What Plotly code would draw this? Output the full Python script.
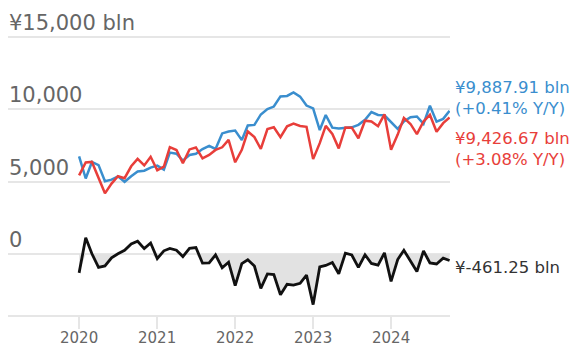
import plotly.graph_objects as go
import pandas as pd
import numpy as np

months = pd.date_range("2020-01-01", "2024-10-01", freq="MS")

# Exports (red), bln yen
exports = [
    5431, 6321, 6358, 5207, 4185, 4861, 5369, 5233, 6055, 6566, 6114, 6710,
    5779, 6036, 7378, 7181, 6261, 7221, 7358, 6606, 6841, 7184, 7367, 7881,
    6332, 7191, 8461, 8076, 7252, 8623, 8750, 8062, 8819, 9000, 8838, 8786,
    6551, 7654, 8850, 8294, 7293, 8743, 8726, 7993, 9204, 9147, 8827, 9648,
    7200, 8248, 9400, 8981, 8277, 9150, 9618, 8444, 9038, 9426.67,
]
# Imports (blue), bln yen
imports = [
    6744, 5210, 6353, 6138, 5019, 5130, 5358, 4985, 5367, 5691, 5752, 5961,
    6101, 5823, 7001, 6925, 6448, 6838, 6916, 7248, 7470, 7254, 8327, 8459,
    8523, 7866, 8873, 8915, 9637, 10007, 10185, 10886, 10918, 11164, 10870, 10254,
    10057, 8559, 9600, 8726, 8665, 8700, 8750, 8923, 9266, 9809, 9603, 9579,
    9091, 8636, 9150, 9443, 9498, 8987, 10243, 9139, 9332, 9887.91,
]
# Trade balance (black), bln yen
balance = [
    -1313, 1109, 5, -931, -835, -269, 11, 248, 688, 872, 362, 749,
    -323, 213, 377, 256, -187, 383, 442, -643, -629, -70, -960, -578,
    -2191, -675, -412, -839, -2385, -1384, -1435, -2824, -2099, -2164, -2032, -1468,
    -3506, -905, -800, -600, -1372, 43, -78, -930, -62, -662, -776, 69,
    -1900, -388, 250, -462, -1221, 200, -625, -695, -294, -461.25,
]

y_ticks = [0, 5000, 10000, 15000]
y_labels = ["0", "5,000", "10,000", "¥15,000 bln"]
x_ticks = ["2020-01-01", "2021-01-01", "2022-01-01", "2023-01-01", "2024-01-01"]
x_labels = ["2020", "2021", "2022", "2023", "2024"]

BLUE = "rgb(58,142,206)"
RED = "rgb(232,62,58)"
BLACK = "#111111"
GRID = "#e6e6e6"
LABEL = "#666666"
FONT = "DejaVu Sans"

TOP = 34.0
BOT = 32.0
H = 347.0 - TOP - BOT

def py(pix):
    return (TOP + H - pix) / H

fig = go.Figure()

fig.add_trace(go.Scatter(
    x=months, y=np.minimum(np.array(balance), 0), mode="lines",
    line=dict(width=0), fill="tozeroy", fillcolor="#e2e2e2",
    hoverinfo="skip", showlegend=False,
))
fig.add_trace(go.Scatter(x=months, y=imports, mode="lines",
                         line=dict(color=BLUE, width=2.5), showlegend=False))
fig.add_trace(go.Scatter(x=months, y=exports, mode="lines",
                         line=dict(color=RED, width=2.5), showlegend=False))
fig.add_trace(go.Scatter(x=months, y=balance, mode="lines",
                         line=dict(color=BLACK, width=2.8), showlegend=False))

annotations = []
for v, t in zip(y_ticks, y_labels):
    annotations.append(dict(
        x=0, xref="paper", y=v, yref="y", text=t, showarrow=False,
        xanchor="left", yanchor="bottom", yshift=0, xshift=-1,
        font=dict(family=FONT, size=21, color=LABEL),
    ))

for xv, t in zip(x_ticks, x_labels):
    annotations.append(dict(
        x=xv, xref="x", y=py(338), yref="paper", text=t, showarrow=False,
        xanchor="center", yanchor="middle",
        font=dict(family=FONT, size=15, color=LABEL),
    ))

right_labels = [
    ("¥9,887.91 bln<br>(+0.41% Y/Y)", 98, BLUE),
    ("¥9,426.67 bln<br>(+3.08% Y/Y)", 149, RED),
    ("¥-461.25 bln", 267, "#333333"),
]
for t, pix, c in right_labels:
    annotations.append(dict(
        x=1, xref="paper", y=py(pix), yref="paper", text=t, showarrow=False,
        xanchor="left", yanchor="middle", xshift=3, align="left",
        font=dict(family=FONT, size=16.5, color=c),
    ))

fig.update_layout(
    width=584, height=347,
    margin=dict(l=8, r=134, t=TOP, b=BOT, autoexpand=False),
    paper_bgcolor="white", plot_bgcolor="white",
    showlegend=False,
    annotations=annotations,
    xaxis=dict(
        type="date",
        range=["2019-02-02", "2024-10-03"],
        tickvals=x_ticks, showticklabels=False,
        showgrid=False, zeroline=False, automargin=False,
        showline=True, linecolor=GRID, linewidth=2,
        ticks="outside", ticklen=12, tickwidth=2, tickcolor=GRID,
    ),
    yaxis=dict(
        range=[-4225, 15200],
        tickvals=y_ticks, showticklabels=False, automargin=False,
        showgrid=True, gridcolor=GRID, gridwidth=2,
        zeroline=False, showline=False,
    ),
)

fig.write_html("out.html")
